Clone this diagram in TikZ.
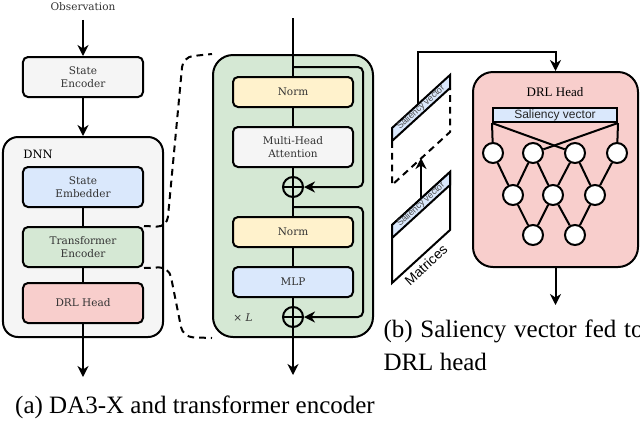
\documentclass[tikz,border=0pt]{standalone}
\usepackage{fontspec}
\setmainfont{Liberation Serif}
\setsansfont{Liberation Sans}
\newfontfamily\boxfont{DejaVu Serif}
\usetikzlibrary{arrows.meta}

\definecolor{grayfill}{HTML}{F5F5F5}
\definecolor{bluefill}{HTML}{DAE8FC}
\definecolor{greenfill}{HTML}{D5E8D4}
\definecolor{redfill}{HTML}{F8CECC}
\definecolor{yellowfill}{HTML}{FFF2CC}

\begin{document}
\begin{tikzpicture}[x=0.4pt,y=-0.4pt]
	\tikzstyle{Block} = [rectangle, rounded corners=2pt, minimum width=48pt, minimum height=16pt, inner sep=0pt, align=center, draw=black, line width=0.8pt, text=black!80, font=\boxfont\fontsize{4.2}{5.2}\selectfont]
	\tikzstyle{Frame} = [rectangle, rounded corners=6pt, draw=black, line width=0.8pt]
	\tikzstyle{Add} = [circle, minimum size=8pt, inner sep=0pt, draw=black, line width=0.8pt, path picture={\draw[line width=0.8pt] (path picture bounding box.west) -- (path picture bounding box.east);}]
	\tikzstyle{Neuron} = [circle, minimum size=8pt, inner sep=0pt, draw=black, line width=0.8pt, fill=white]
	\tikzstyle{arrow} = [line width=0.8pt, -{Stealth[length=4.4pt, width=4.4pt, inset=1.4pt]}]
	\tikzstyle{link} = [line width=0.8pt]
	\tikzstyle{zoomline} = [line width=0.8pt, dash pattern=on 2.7pt off 2pt, rounded corners=4pt]
	\tikzstyle{Caption} = [inner sep=0pt, font=\fontsize{10}{12}\selectfont]
	\tikzstyle{Slanted} = [rotate=42.4, inner sep=0pt]

	\useasboundingbox (0,0) rectangle (640,422);

	% (a) DA3-X
	\node (obs) [text=black!80, font=\boxfont\fontsize{4.2}{5.2}\selectfont] at (83,7) {Observation};
	\node (se) [Block, fill=grayfill] at (83,77) {State\\Encoder};
	\node (dnn) [Frame, fill=grayfill, minimum width=64pt, minimum height=80pt] at (83,237) {};
	\node (dnnlabel) [font=\boxfont\fontsize{4.6}{5.5}\selectfont] at (38,154) {DNN};
	\node (semb) [Block, fill=bluefill] at (83,187) {State\\Embedder};
	\node (te) [Block, fill=greenfill] at (83,247) {Transformer\\Encoder};
	\node (drla) [Block, fill=redfill] at (83,303) {DRL Head};
	\coordinate (aout) at (83,377);

	\draw [arrow] (obs.south) -- (se.north);
	\draw [arrow] (se.south) -- (dnn.north);
	\draw [link] (semb.south) -- (te.north);
	\draw [link] (te.south) -- (drla.north);
	\draw [arrow] (drla.south) -- (aout);

	% transformer encoder
	\node (tf) [Frame, rounded corners=8pt, fill=greenfill, minimum width=64pt, minimum height=112.8pt] at (293,196) {};
	\coordinate (tin) at (293,18);
	\coordinate (r1) at (293,67);
	\node (norm1) [Block, fill=yellowfill, minimum height=12pt] at (293,92) {Norm};
	\node (mha) [Block, fill=grayfill] at (293,147) {Multi-Head\\Attention};
	\node (add1) [Add] at (293,187) {};
	\coordinate (r2) at (293,207);
	\node (norm2) [Block, fill=yellowfill, minimum height=12pt] at (293,232) {Norm};
	\node (mlp) [Block, fill=bluefill, minimum height=12pt] at (293,282) {MLP};
	\node (add2) [Add] at (293,317) {};
	\node (rep) [text=black!80, font=\boxfont\fontsize{4.2}{5.2}\selectfont] at (243,318) {× \itshape L};
	\coordinate (tout) at (293,375);

	\draw [link] (tin) -- (norm1.north);
	\draw [link] (norm1.south) -- (mha.north);
	\draw [link] (mha.south) -- (add1.south);
	\draw [link] (add1.south) -- (norm2.north);
	\draw [link] (norm2.south) -- (mlp.north);
	\draw [link] (mlp.south) -- (add2.south);
	\draw [arrow] (add2.south) -- (tout);
	\draw [arrow, rounded corners=2pt] (r1) -- (363,67) -- (363,187) -- (add1.east);
	\draw [arrow, rounded corners=2pt] (r2) -- (363,207) -- (363,317) -- (add2.east);

	\draw [zoomline] (te.north east) -- (167,227) -- (183,57) -- (tf.north west);
	\draw [zoomline] (te.south east) -- (169,267) -- (183,337) -- (tf.south west);

	% (b) saliency vector
	\node (drlb) [Frame, rounded corners=8pt, fill=redfill, minimum width=66pt, minimum height=78pt] at (555.5,169.5) {};
	\node (drlblabel) [font=\fontsize{5.2}{6}\selectfont] at (555,92) {DRL Head};
	\node (sal) [rectangle, draw=black, line width=0.8pt, fill=bluefill, minimum width=49.6pt, minimum height=5.6pt, inner sep=0pt, text=black!85, font=\sffamily\fontsize{4.8}{5}\selectfont] at (555,115) {Saliency vector};
	\foreach \name/\x/\y in {n1/493/153, n2/533/153, n3/575/153, n4/617/153, m1/513/195, m2/553/195, m3/595/195, o1/533/235, o2/575/235}
		\node (\name) [Neuron] at (\x,\y) {};
	\foreach \a/\b in {n1/m1, n2/m1, n2/m2, n3/m2, n3/m3, n4/m3, m1/o1, m2/o1, m2/o2, m3/o2}
		\draw [link] (\a) -- (\b);
	\draw [link] (sal.south west) -- (n1);
	\draw [link] (sal.south west) -- (n3);
	\draw [link] (sal.south east) -- (n4);
	\draw [link] (sal.south east) -- (n2);
	\coordinate (bout) at (555.5,305);
	\draw [arrow] (drlb.south) -- (bout);

	% stacked matrices
	\draw [line width=0.8pt, fill=bluefill] (392,128) -- (450,75) -- (450,88) -- (392,141) -- cycle;
	\draw [line width=0.8pt, dash pattern=on 2.7pt off 2pt] (392,141) -- (392,185) -- (450,132) -- (450,88);
	\draw [line width=0.8pt, fill=white] (392,225) -- (450,172) -- (450,230) -- (392,283) -- cycle;
	\draw [line width=0.8pt, fill=bluefill] (392,225) -- (450,172) -- (450,185) -- (392,238) -- cycle;
	\node (vecup) [Slanted, text=black!70, font=\sffamily\fontsize{3.6}{4}\selectfont] at (421,107.5) {Saliency vector};
	\node (veclow) [Slanted, text=black!70, font=\sffamily\fontsize{3.6}{4}\selectfont] at (421,204.5) {Saliency vector};
	\node (mat) [Slanted, font=\sffamily\fontsize{5.5}{6}\selectfont] at (426,265) {Matrices};
	\coordinate (lowtop) at (421,198);
	\coordinate (uptarget) at (421,158);
	\coordinate (uptop) at (418,104);
	\draw [arrow] (lowtop) -- (uptarget);
	\draw [arrow] (uptop) -- (418,52) -| (drlb.north);

	% captions
	\node (capa) [Caption, anchor=base] at (195,413) {(a) DA3-X and transformer encoder};
	\node (capb1) [Caption, anchor=base west] at (383,337) {\makebox[104pt][s]{(b) Saliency vector fed to}};
	\node (capb2) [Caption, anchor=base west] at (383,370) {DRL head};
\end{tikzpicture}
\end{document}
